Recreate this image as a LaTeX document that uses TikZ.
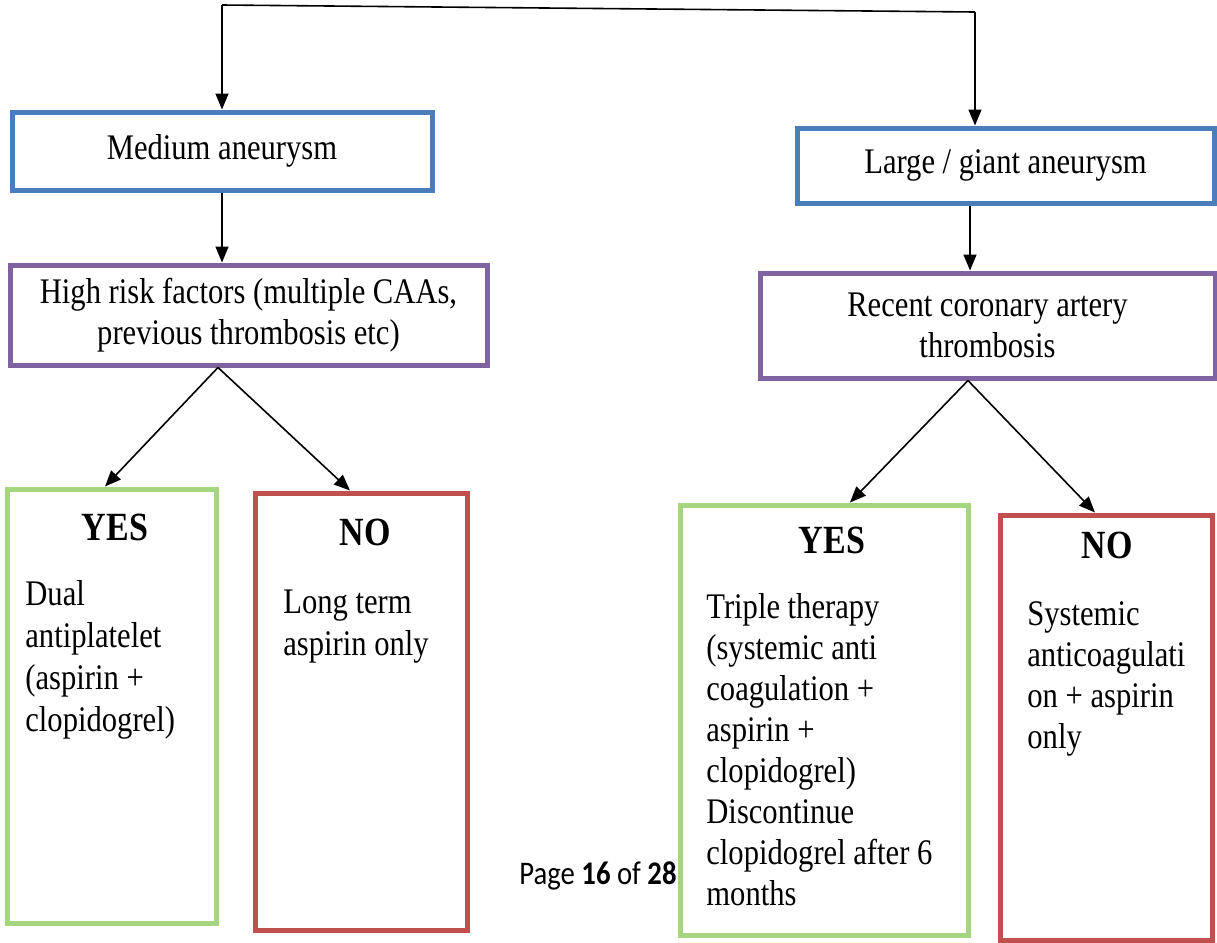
\documentclass[tikz,border=0pt]{standalone}
\usepackage{fontspec}
\setmainfont{Liberation Serif}[FakeStretch=0.85]
\newfontfamily\pagefont{Carlito}[FakeStretch=0.87]
\usetikzlibrary{arrows.meta}
\definecolor{boxblue}{HTML}{4A7EBB}
\definecolor{boxpurple}{HTML}{7E63A0}
\definecolor{boxgreen}{HTML}{A5D57F}
\definecolor{boxred}{HTML}{C0504D}
\begin{document}
\begin{tikzpicture}[x=0.5pt,y=-0.5pt,
  box/.style={draw, line width=2.5pt, fill=white, inner sep=0pt, align=center,
    font=\fontsize{18}{20.5}\selectfont},
  bluebox/.style={box, draw=boxblue},
  purplebox/.style={box, draw=boxpurple},
  greenbox/.style={box, draw=boxgreen},
  redbox/.style={box, draw=boxred},
  arr/.style={line width=0.8pt, -{Triangle[length=8pt,width=6.5pt]}},
  body/.style={anchor=base west, align=left, inner sep=0pt,
    font=\fontsize{18}{21}\selectfont},
  head/.style={anchor=base, inner sep=0pt, font=\bfseries\fontsize{20}{24}\selectfont}]
\useasboundingbox (0,0) rectangle (1217,943);
\fill[white] (0,0) rectangle (1217,943);

% boxes
\node[bluebox, minimum width=210pt, minimum height=39pt] (med) at (222,151) {Medium aneurysm};
\node[bluebox, minimum width=208.5pt, minimum height=37.5pt] (large) at (1005.5,165.5) {Large / giant aneurysm};
\node[purplebox, minimum width=238.5pt, minimum height=50pt] (high) at (248.5,315) {High risk factors (multiple CAAs,\\previous thrombosis etc)};
\node[purplebox, minimum width=227.5pt, minimum height=52.5pt] (recent) at (987.5,325.5) {Recent coronary artery\\thrombosis};
\node[greenbox, minimum width=104.5pt, minimum height=217pt] (yesL) at (111.5,706) {};
\node[redbox, minimum width=106pt, minimum height=218.5pt] (noL) at (361,711.5) {};
\node[greenbox, minimum width=144pt, minimum height=215pt] (yesR) at (824,720) {};
\node[redbox, minimum width=106pt, minimum height=212.5pt] (noR) at (1106,727.5) {};

% texts in the answer boxes (anchor = baseline of the last line)
\node[head] (yesLh) at (115,540) {YES};
\node[body] (yesLt) at (25,731) {Dual\\antiplatelet\\(aspirin +\\clopidogrel)};
\node[head] (noLh) at (365,545) {NO};
\node[body] (noLt) at (283,655) {Long term\\aspirin only};
\node[head] (yesRh) at (832,553) {YES};
\node[body, font=\fontsize{18}{20.5}\selectfont] (yesRt) at (706,905) {Triple therapy\\(systemic anti\\coagulation +\\aspirin +\\clopidogrel)\\Discontinue\\clopidogrel after 6\\months};
\node[head] (noRh) at (1107,558) {NO};
\node[body, font=\fontsize{18}{20.5}\selectfont] (noRt) at (1027,748) {Systemic\\anticoagulati\\on + aspirin\\only};

% page label
\node[inner sep=0pt, font=\pagefont\fontsize{16.5}{18}\selectfont] (page) at (598,876) {Page \textbf{16} of \textbf{28}};

% connectors
\coordinate (tl) at (222,5);
\coordinate (tr) at (975,12);
\coordinate (cL) at (222,0);
\coordinate (cR) at (970,0);
\coordinate (hx) at (218,0);
\coordinate (rx) at (968,0);
\coordinate (yLx) at (105,0);
\coordinate (nLx) at (350,0);
\coordinate (yRx) at (850,0);
\coordinate (nRx) at (1095,0);
\draw[line width=0.8pt] (tl) -- (tr);
\draw[arr] (tl) -- (med.north);
\draw[arr] (tr) -- (tr |- large.north);
\draw[arr] (cL |- med.south) -- (cL |- high.north);
\draw[arr] (cR |- large.south) -- (cR |- recent.north);
\draw[arr] (hx |- high.south) -- (yLx |- yesL.north);
\draw[arr] (hx |- high.south) -- (nLx |- noL.north);
\draw[arr] (rx |- recent.south) -- (yRx |- yesR.north);
\draw[arr] (rx |- recent.south) -- (nRx |- noR.north);
\end{tikzpicture}
\end{document}
